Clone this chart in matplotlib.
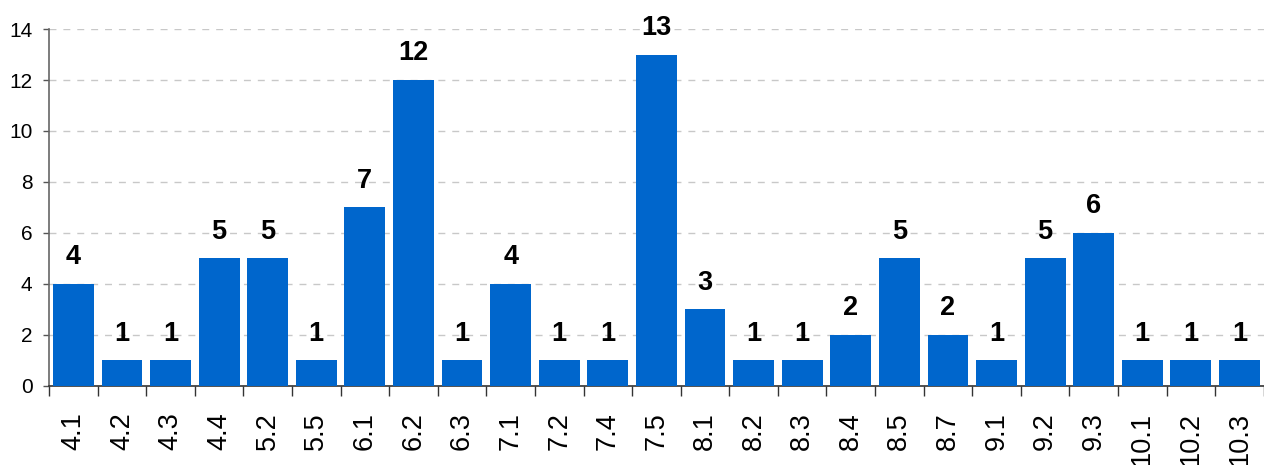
import matplotlib.pyplot as plt
import numpy as np

# categories and counts
sections = ["4.1", "4.2", "4.3", "4.4", "5.2", "5.5", "6.1", "6.2", "6.3", "7.1",
            "7.2", "7.4", "7.5", "8.1", "8.2", "8.3", "8.4", "8.5", "8.7", "9.1",
            "9.2", "9.3", "10.1", "10.2", "10.3"]
counts = [4, 1, 1, 5, 5, 1, 7, 12, 1, 4, 1, 1, 13, 3, 1, 1, 2, 5, 2, 1, 5, 6, 1, 1, 1]
y_ticks = [0, 2, 4, 6, 8, 10, 12, 14]

plt.rcParams['font.family'] = ['Liberation Sans', 'DejaVu Sans']

fig = plt.figure(figsize=(12.64, 4.65), dpi=100)
ax = fig.add_axes([0.0388, 0.170, 0.961, 0.7676])

x = np.arange(len(sections))
bars = ax.bar(x, counts, width=0.84, color='#0066CC', zorder=3)

for xi, v in zip(x, counts):
    ax.annotate(str(v), (xi, v), xytext=(0, 10), textcoords='offset points',
                ha='center', va='bottom', fontsize=19.5, fontweight='bold')

ax.set_xlim(-0.5, len(sections) - 0.5)
ax.set_ylim(0, 14)
ax.set_yticks(y_ticks)
ax.tick_params(axis='y', labelsize=15, length=4, width=1, pad=8, color='#555555', direction='out')
ax.yaxis.grid(True, linestyle=(0, (5, 5)), color='#c8c8c8', linewidth=1, zorder=0)

# category labels centred, ticks on the category boundaries
ax.set_xticks(x)
ax.set_xticklabels(sections, rotation=90, fontsize=19.5)
ax.tick_params(axis='x', length=0, pad=19)
ax.set_xticks(np.arange(-0.5, len(sections)), minor=True)
ax.tick_params(axis='x', which='minor', length=7, width=1, color='#333333')

for s in ['top', 'right']:
    ax.spines[s].set_visible(False)
ax.spines['left'].set_color('#666666')
ax.spines['bottom'].set_color('#333333')
ax.spines['left'].set_linewidth(1.2)
ax.spines['bottom'].set_linewidth(1.2)

fig.savefig('out.png', dpi=100)
